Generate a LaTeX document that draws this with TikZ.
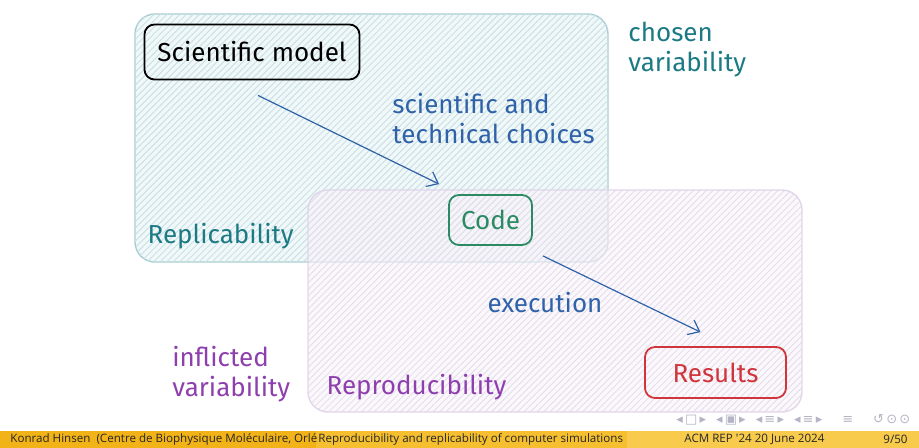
\documentclass[tikz,border=0pt]{standalone}
\usepackage{fontspec}
\setmainfont{Fira Sans}
\newfontfamily\footfont{Open Sans}
\newfontfamily\navfont{DejaVu Sans}
\usepackage{xcolor}
\usetikzlibrary{arrows.meta, positioning, patterns.meta}

\definecolor{repliLine}{HTML}{A9CDD4}
\definecolor{repliFill}{HTML}{F1F8F9}
\definecolor{repliHatch}{HTML}{CBE1E5}
\definecolor{repliText}{HTML}{1C7A84}
\definecolor{reproLine}{HTML}{DCCDE5}
\definecolor{reproFill}{HTML}{F8F4FA}
\definecolor{reproHatch}{HTML}{E2D8EA}
\definecolor{reproText}{HTML}{8E3FAE}
\definecolor{choiceBlue}{HTML}{2F62A8}
\definecolor{codeGreen}{HTML}{2B8A62}
\definecolor{resultRed}{HTML}{D0353B}
\definecolor{footA}{HTML}{F2B318}
\definecolor{footB}{HTML}{F5BF30}
\definecolor{footC}{HTML}{F8CB4C}
\definecolor{navGrey}{HTML}{B4B4C4}

\begin{document}
\begin{tikzpicture}[
        x=0.5pt, y=-0.5pt,
        hand/.style={font=\fontsize{13}{14.8}\selectfont, align=left, inner sep=0pt},
        region/.style={
            rounded corners=10pt,
            line width=0.7pt,
            inner sep=0pt
        },
        replic/.style={
            region,
            draw=repliLine,
            fill=repliFill,
            postaction={pattern={Lines[angle=45, distance=2.3pt, line width=0.5pt]}, pattern color=repliHatch}
        },
        repro/.style={
            region,
            draw=reproLine,
            fill=reproFill,
            fill opacity=0.6,
            draw opacity=0.8,
            postaction={pattern={Lines[angle=45, distance=2.3pt, line width=0.5pt]}, pattern color=reproHatch, fill opacity=0.7}
        },
        stage/.style={
            draw,
            rounded corners=5pt,
            line width=0.9pt,
            font=\fontsize{13}{15}\selectfont
        },
        arrow/.style={-{Straight Barb[length=5pt, width=8pt]}, line width=0.6pt, draw=choiceBlue},
        footbox/.style={font=\footfont\fontsize{5.8}{6}\selectfont, text=black!85, inner sep=0pt}
    ]
        \useasboundingbox (0,0) rectangle (919,448);

        % the two overlapping regions
        \node[replic, minimum width=236.5pt, minimum height=124pt] (replic) at (371.5,138) {};
        \node[repro, minimum width=247pt, minimum height=111pt] (repro) at (555,301) {};

        \node[hand, text=repliText, anchor=base west] (replicLbl) at ([shift={(13,-19)}]replic.south west) {Replicability};
        \node[hand, text=reproText, anchor=base west] (reproLbl) at ([shift={(19,-18)}]repro.south west) {Reproducibility};
        \node[hand, text=repliText, anchor=north west] (chosen) at (628,22) {chosen\\variability};
        \node[hand, text=reproText, anchor=north west] (inflicted) at (172,346) {inflicted\\variability};

        % stages
        \node[stage, draw=black, minimum width=107.5pt, minimum height=27.5pt] (model) at (252,52) {Scientific model};
        \node[stage, draw=codeGreen, text=codeGreen, minimum width=41.5pt, minimum height=25pt] (code) at (490.5,220) {Code};
        \node[stage, draw=resultRed, text=resultRed, minimum width=70.5pt, minimum height=25.5pt] (results) at (715.5,372.5) {Results};

        \draw[arrow] ([shift={(6,15)}]model.south) -- ([shift={(-9,-10)}]code.north west);
        \draw[arrow] ([shift={(10,10)}]code.south east) -- ([shift={(-15,-14)}]results.north);

        \node[hand, text=choiceBlue, anchor=north west] (choices) at (392,93) {scientific and\\technical choices};
        \node[hand, text=choiceBlue] (execution) at (545,303) {execution};

        % navigation symbols and footline
        \node[font=\navfont\fontsize{6.5}{7}\selectfont, text=navGrey, anchor=west, inner sep=0pt] (nav) at (676,420)
            {◂\,□\,▸\hspace{5pt}◂\,▣\,▸\hspace{5pt}◂\,≡\,▸\hspace{5pt}◂\,≡\,▸\hspace{10pt}≡\hspace{10pt}↺\,⊙\,⊙};
        \fill[footA] (0,431) rectangle (316,448);
        \fill[footB] (316,431) rectangle (627,448);
        \fill[footC] (627,431) rectangle (919,448);
        \node[footbox, anchor=west] (author) at (10,439.5) {Konrad Hinsen\ \ (Centre de Biophysique Moléculaire, Orlé};
        \node[footbox, anchor=west] (title) at (318,439.5) {Reproducibility and replicability of computer simulations};
        \node[footbox, anchor=west] (event) at (684,439.5) {ACM REP '24 20 June 2024};
        \node[footbox, anchor=east] (page) at (908,439.5) {9/50};
    \end{tikzpicture}
\end{document}
